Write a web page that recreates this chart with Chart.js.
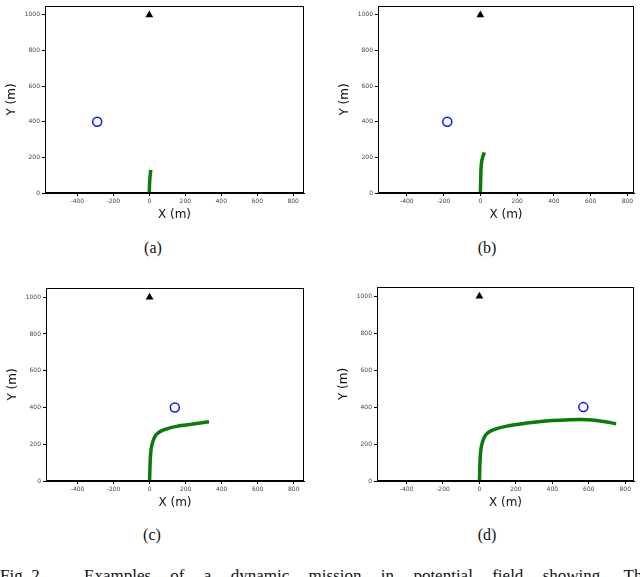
<!DOCTYPE html>
<html>
<head>
<meta charset="utf-8">
<script src="https://cdn.jsdelivr.net/npm/chart.js@4"></script>
<style>
  body { margin: 0; background: #fff; width: 640px; height: 577px; overflow: hidden; position: relative; }
  .panel { position: absolute; }
  .cap { position: absolute; font-family: "Liberation Serif", serif; font-size: 16px; color: #111; transform: translate(-50%, -50%); }
  .fig { position: absolute; top: 566px; font-family: "Liberation Serif", serif; font-size: 17px; color: #111; white-space: nowrap; }
  #figText { left: 84px; width: 566px; text-align: justify; text-align-last: justify; }
</style>
</head>
<body>
<canvas id="ca" class="panel"></canvas>
<canvas id="cb" class="panel"></canvas>
<canvas id="cc" class="panel"></canvas>
<canvas id="cd" class="panel"></canvas>
<div class="cap" style="left:153px;top:248px">(a)</div>
<div class="cap" style="left:487px;top:248px">(b)</div>
<div class="cap" style="left:152px;top:535px">(c)</div>
<div class="cap" style="left:487px;top:535px">(d)</div>
<div class="fig" style="left:0">Fig. 2.</div>
<div class="fig" id="figText">Examples of a dynamic mission in potential field showing. The</div>
<script>
// tick labels
const xTicks = [-400, -200, 0, 200, 400, 600, 800];
const yTicks = [0, 200, 400, 600, 800, 1000];

// goal (triangle) - same in every panel
const goalX = [0, 0, 0, 0];
const goalY = [1000, 1000, 1000, 1000];

// moving obstacle (blue circle)
const obstacleX = [-290, -180, 140, 570];
const obstacleY = [400, 400, 400, 400];

// vehicle paths (green)
const pathAX = [0, 1, 3, 6, 8];
const pathAY = [0, 40, 80, 110, 130];
const pathBX = [0, 2, 5, 12, 22];
const pathBY = [0, 80, 160, 200, 228];
const pathCX = [0, 3, 8, 18, 35, 60, 100, 150, 200, 250, 330];
const pathCY = [0, 100, 170, 215, 250, 270, 285, 297, 305, 312, 322];
const pathDX = [0, 3, 8, 18, 35, 60, 100, 150, 200, 300, 400, 500, 560, 620, 680, 750];
const pathDY = [0, 100, 170, 215, 250, 270, 285, 297, 305, 318, 327, 332, 333, 330, 322, 310];

const pts = (xs, ys) => xs.map((x, i) => ({ x: x, y: ys[i] }));

// frame: draw the full box like matplotlib
const boxPlugin = {
    id: "box",
    afterDraw(chart) {
        const a = chart.chartArea, ctx = chart.ctx;
        ctx.save();
        ctx.strokeStyle = "#000";
        ctx.lineWidth = 1;
        ctx.strokeRect(Math.round(a.left) + 0.5, Math.round(a.top) + 0.5,
                       Math.round(a.right - a.left) - 1, Math.round(a.bottom - a.top) - 1);
        ctx.restore();
    }
};

function createPanel(id, left, top, width, height, pad, xMin, xMax, i, px, py) {
    const canvas = document.getElementById(id);
    canvas.width = width;
    canvas.height = height;
    canvas.style.left = left + "px";
    canvas.style.top = top + "px";
    new Chart(canvas.getContext("2d"), {
        type: "scatter",
        data: {
            datasets: [
                {
                    data: pts(px, py),
                    showLine: true,
                    borderColor: "#0b7a0b",
                    borderWidth: 3.5,
                    pointRadius: 0,
                    tension: 0.4,
                    order: 3
                },
                {
                    data: [{ x: obstacleX[i], y: obstacleY[i] }],
                    pointStyle: "circle",
                    pointRadius: 4.5,
                    backgroundColor: "rgba(0,0,0,0)",
                    borderColor: "#1010ff",
                    borderWidth: 1.5,
                    order: 2
                },
                {
                    data: [{ x: goalX[i], y: goalY[i] }],
                    pointStyle: "triangle",
                    pointRadius: 4.5,
                    backgroundColor: "#000",
                    borderColor: "#000",
                    borderWidth: 0,
                    order: 1
                }
            ]
        },
        options: {
            responsive: false,
            animation: false,
            devicePixelRatio: 1,
            layout: { padding: { top: pad[0], right: pad[1], bottom: 0, left: 0 } },
            plugins: { legend: { display: false }, tooltip: { enabled: false } },
            scales: {
                x: {
                    type: "linear",
                    min: xMin,
                    max: xMax,
                    afterBuildTicks: s => { s.ticks = xTicks.map(v => ({ value: v })); },
                    afterFit: s => { s.height = 30; },
                    grid: { drawOnChartArea: false, tickLength: 3, color: "#000" },
                    border: { color: "#000" },
                    ticks: { font: { size: 6, family: "DejaVu Sans" }, color: "#444", padding: 2, maxRotation: 0,
                             callback: v => String(v) },
                    title: { display: true, text: "X (m)", font: { size: 12, family: "DejaVu Sans" }, color: "#111", padding: { top: 0, bottom: 1 } }
                },
                y: {
                    type: "linear",
                    min: 0,
                    max: 1050,
                    afterBuildTicks: s => { s.ticks = yTicks.map(v => ({ value: v })); },
                    afterFit: s => { s.width = 45; },
                    grid: { drawOnChartArea: false, tickLength: 3, color: "#000" },
                    border: { color: "#000" },
                    ticks: { font: { size: 6, family: "DejaVu Sans" }, color: "#444", padding: 2,
                             callback: v => String(v) },
                    title: { display: true, text: "Y (m)", font: { size: 12, family: "DejaVu Sans" }, color: "#111", padding: { top: 5, bottom: 0 } }
                }
            }
        },
        plugins: [boxPlugin]
    });
}

createPanel("ca", 0, 0, 310, 223, [0, 4], -580, 860, 0, pathAX, pathAY);
createPanel("cb", 333, 0, 307, 223, [0, 2], -557, 836, 1, pathBX, pathBY);
createPanel("cc", 1, 280, 309, 231, [8, 4], -575, 857, 2, pathCX, pathCY);
createPanel("cd", 332, 280, 308, 231, [7, 1], -562, 848, 3, pathDX, pathDY);
</script>
</body>
</html>
